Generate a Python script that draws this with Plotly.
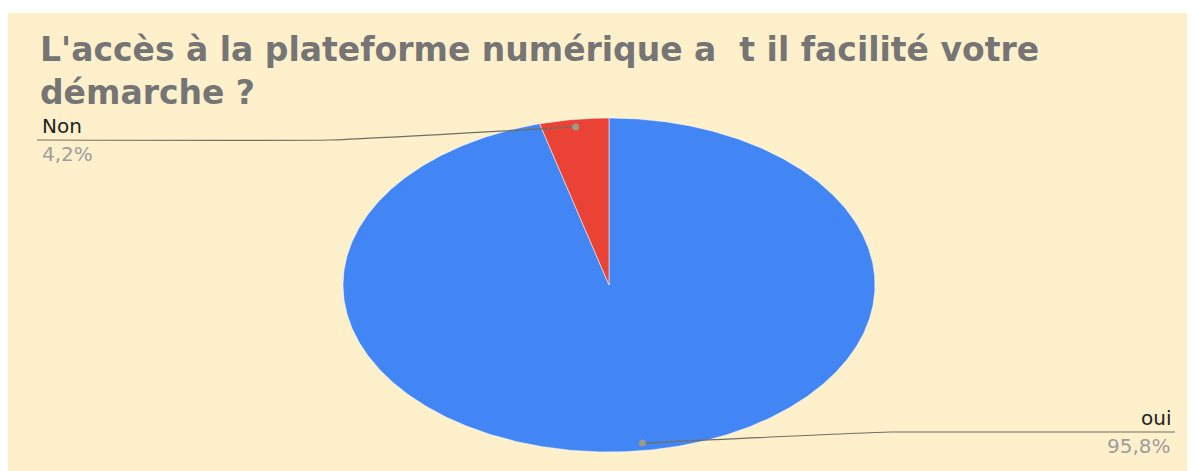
import numpy as np
import plotly.graph_objects as go

# ---- data ----
categories = ["oui", "Non"]
values = [95.8, 4.2]
colors = ["#4285F4", "#EA4335"]
title_text = "L'accès à la plateforme numérique a\u00a0 t il facilité votre<br>démarche ?"

W, H = 1195, 471
OFF = 8  # page body margin offset
CX, CY, RX, RY = 609 - OFF, 285 - OFF, 266, 167

fig = go.Figure()

# background panel
fig.add_shape(type="rect", x0=6 - OFF, y0=13 - OFF, x1=W + 20, y1=H + 20, xref="x", yref="y",
              fillcolor="#FFF0CC", line=dict(width=0), layer="below")

total = sum(values)
start = 0.0
mids = []
for cat, v, col in zip(categories, values, colors):
    frac = v / total
    t = np.linspace(start, start + frac, max(int(frac * 720), 4)) * 2 * np.pi
    xs = np.concatenate([[CX], CX + RX * np.sin(t), [CX]])
    ys = np.concatenate([[CY], CY - RY * np.cos(t), [CY]])
    fig.add_trace(go.Scatter(x=xs, y=ys, mode="lines", fill="toself", fillcolor=col,
                             line=dict(color="rgba(255,255,255,0.5)", width=1),
                             hoverinfo="text", text=cat, showlegend=False))
    mids.append((start + frac / 2) * 2 * np.pi)
    start += frac

def pct(v):
    return f"{v:.1f}".replace(".", ",") + "%"

# leader lines and labels
label_cfg = {
    "oui": dict(elbow=(890, 432), end=(1175, 432), tx=1173, anchor="right"),
    "Non": dict(elbow=(330, 140), end=(37, 140), tx=40, anchor="left"),
}
for cat, v, m in zip(categories, values, mids):
    cfg = label_cfg[cat]
    dx = CX + 0.955 * RX * np.sin(m)
    dy = CY - 0.955 * RY * np.cos(m)
    fig.add_trace(go.Scatter(x=[dx, cfg["elbow"][0] - OFF, cfg["end"][0] - OFF],
                             y=[dy, cfg["elbow"][1] - OFF, cfg["end"][1] - OFF],
                             mode="lines", line=dict(color="#6f6f60", width=1.2, shape="spline", smoothing=0.3),
                             hoverinfo="skip", showlegend=False))
    fig.add_trace(go.Scatter(x=[dx], y=[dy], mode="markers",
                             marker=dict(color="#9a9a88", size=7),
                             hoverinfo="skip", showlegend=False))
    ly = cfg["end"][1] - OFF
    fig.add_annotation(x=cfg["tx"] - OFF, y=ly, text=cat, showarrow=False, xanchor=cfg["anchor"],
                       yanchor="bottom", font=dict(family="DejaVu Sans", size=20, color="#222222"))
    fig.add_annotation(x=cfg["tx"] - OFF, y=ly, text=pct(v), showarrow=False, xanchor=cfg["anchor"],
                       yanchor="top", font=dict(family="DejaVu Sans", size=20, color="#9E9E9E"))

fig.add_annotation(x=38 - OFF, y=28 - OFF, text=title_text, showarrow=False, xanchor="left",
                   yanchor="top", align="left",
                   font=dict(family="DejaVu Sans", size=33, color="#757575", weight="bold"))

fig.update_layout(
    width=W, height=H,
    margin=dict(l=0, r=0, t=0, b=0),
    paper_bgcolor="white", plot_bgcolor="rgba(0,0,0,0)",
    xaxis=dict(range=[0, W], visible=False, fixedrange=True),
    yaxis=dict(range=[H, 0], visible=False, fixedrange=True),
    showlegend=False,
)

fig.write_html("out.html")
